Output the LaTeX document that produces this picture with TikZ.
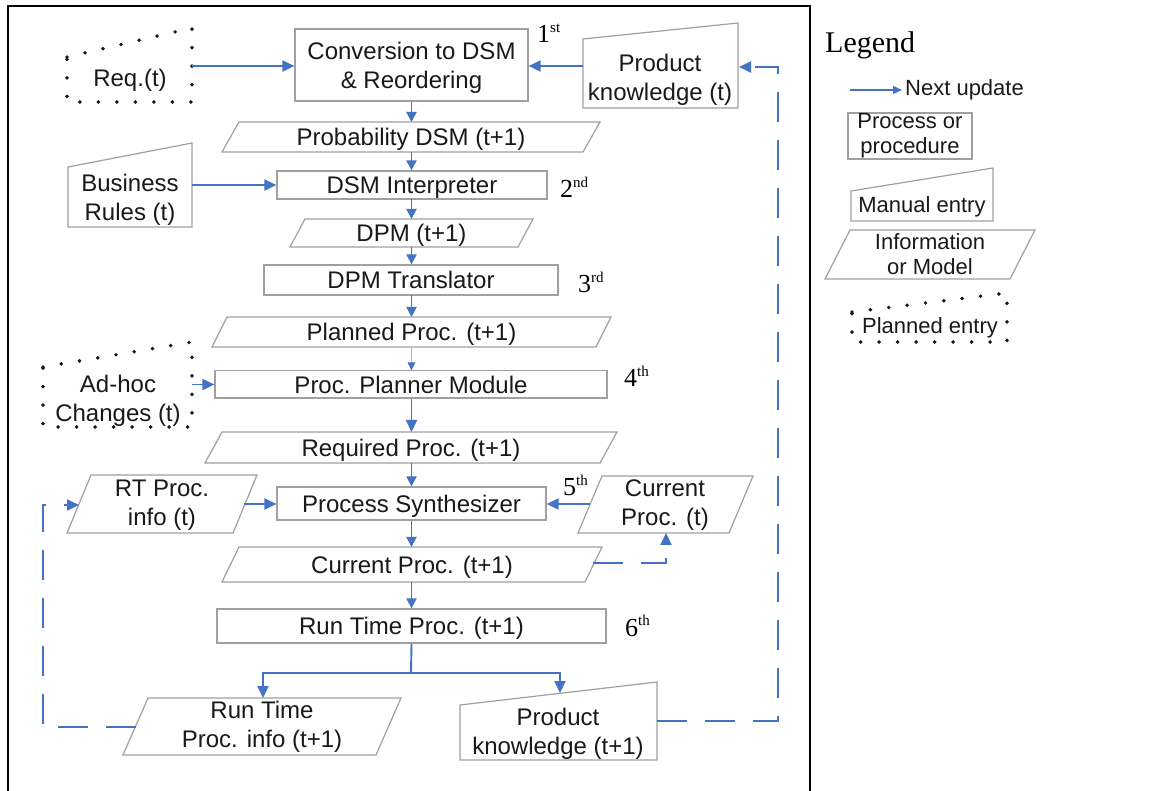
\documentclass[tikz,border=0pt]{standalone}
\usepackage{fontspec}
\setmainfont{Liberation Sans}
\newfontfamily\serifface{Liberation Serif}
\usetikzlibrary{arrows.meta}
\definecolor{flowblue}{RGB}{68,114,196}
\definecolor{edgegray}{RGB}{160,160,160}
\definecolor{inkgray}{RGB}{25,25,25}
\newcommand\mainsize{\fontsize{24}{29}\selectfont}
\newcommand\keysize{\fontsize{22}{25}\selectfont}
% parallelogram: name, left x (bottom), right x (top), top y, bottom y, slant, text
\newcommand\slantbox[7]{%
  \draw[shapeline] (#2,#5) -- ({#2+#6},#4) -- (#3,#4) -- ({#3-#6},#5) -- cycle;
  \node[lbl, oneline] (#1) at ({(#2+#3)/2},{(#4+#5)/2}) {#7};}
% parallelogram with two lines of text placed at a given point
\newcommand\slanttwo[9]{%
  \draw[shapeline] (#2,#5) -- ({#2+#6},#4) -- (#3,#4) -- ({#3-#6},#5) -- cycle;
  \node[lbl] (#1) at (#7,#8) {#9};}
% manual entry: name, left x, right x, top-left y, top-right y, bottom y, text x, text y, text
\newcommand\manualbox[9]{%
  \draw[shapeline] (#2,#4) -- (#3,#5) -- (#3,#6) -- (#2,#6) -- cycle;
  \node[lbl] (#1) at (#7,#8) {#9};}
% planned entry, dotted outline with the same sloping top
\newcommand\plannedbox[9]{%
  \draw[plannedline] (#2,#4) -- (#3,#5) -- (#3,#6) -- (#2,#6) -- cycle;
  \node[lbl] (#1) at (#7,#8) {#9};}
\newcommand\ordinal[4]{% name, x, baseline y, number + suffix
  \node[anchor=base west, inner sep=0, font=\serifface\fontsize{26}{26}\selectfont, text=black] (#1) at (#2,#3) {#4};}
\newcommand\sufx[1]{\raisebox{0.42em}{\fontsize{15}{15}\selectfont #1}}
\begin{document}
\begin{tikzpicture}[x=1pt,y=-1pt,
  shapeline/.style={draw=edgegray, line width=1.2pt},
  plannedline/.style={draw=black!90, line width=3.9pt, line cap=round, line join=round, dash pattern=on 0pt off 18.5pt},
  lbl/.style={inner sep=0, text=inkgray, font=\mainsize, align=center},
  oneline/.style={text height=22.2pt, text depth=5pt},
  procbox/.style={draw=edgegray, line width=1.2pt, inner sep=0, text=inkgray, font=\mainsize, align=center},
  flow/.style={draw=flowblue, line width=1.9pt, -{Triangle[length=12pt,width=11pt]}},
  shortflow/.style={flow, -{Triangle[length=10pt,width=10pt]}},
  thinflow/.style={draw=flowblue!45!gray!60, line width=0.8pt, -{Triangle[length=8pt,width=8pt,color=flowblue]}},
  update/.style={flow, dash pattern=on 30pt off 18pt},
]
\useasboundingbox (0,0) rectangle (1171,791);
\fill[white] (0,0) rectangle (1171,791);

% frame round the flow chart
\draw[line width=2.5pt] (8,800) -- (8,6) -- (810,6) -- (810,800);

% ---- stage 1
\plannedbox{req}{67}{192}{57}{28}{102}{130}{80}{Req.(t)}
\node[procbox, minimum width=233pt, minimum height=72pt] (conv) at (411.5,65) {};
\node[lbl] (convtxt) at (411.5,67.5) {Conversion to DSM\\\& Reordering};
\manualbox{pk0}{583}{738}{39}{23}{108}{660}{80}{Product\\knowledge (t)}
\ordinal{o1}{537}{43}{1\sufx{st}}
\slantbox{prob}{222}{600}{122}{152}{17}{Probability DSM (t+1)}

% ---- stage 2
\manualbox{br}{68}{192}{167}{143}{227}{130}{200}{Business\\Rules (t)}
\node[procbox, oneline, minimum width=270pt, minimum height=28pt] (dsmi) at (412,185) {DSM Interpreter};
\ordinal{o2}{560}{198}{2\sufx{nd}}
\slantbox{dpm}{290}{533}{219}{247}{15}{DPM (t+1)}

% ---- stage 3
\node[procbox, oneline, minimum width=294pt, minimum height=30pt] (dpmt) at (411,280) {DPM Translator};
\ordinal{o3}{578}{293}{3\sufx{rd}}
\slantbox{plan}{212}{611}{317}{347}{15}{Planned Proc. (t+1)}

% ---- stage 4
\plannedbox{adhoc}{43}{192}{367}{342}{427}{118}{401}{Ad-hoc\\Changes (t)}
\node[procbox, oneline, minimum width=392pt, minimum height=27pt] (ppm) at (411,384.5) {Proc. Planner Module};
\ordinal{o4}{624}{387}{4\sufx{th}}
\slantbox{req1}{205}{617}{432}{463}{17}{Required Proc. (t+1)}

% ---- stage 5
\slanttwo{rti}{67}{257}{475}{533}{24}{162}{505}{RT Proc.\\info (t)}
\node[procbox, oneline, minimum width=269pt, minimum height=33pt] (ps) at (411.5,503.5) {Process Synthesizer};
\slanttwo{cur0}{578}{753}{476}{533}{24}{665}{505}{Current\\Proc. (t)}
\ordinal{o5}{563}{496}{5\sufx{th}}
\slantbox{cur1}{222}{602}{547}{582}{17}{Current Proc. (t+1)}

% ---- stage 6
\node[procbox, oneline, minimum width=389pt, minimum height=34pt] (rtp) at (411.5,626) {Run Time Proc. (t+1)};
\ordinal{o6}{625}{636}{6\sufx{th}}
\slanttwo{rti1}{123}{401}{698}{755}{25}{262}{727}{Run Time\\Proc. info (t+1)}
\manualbox{pk1}{460}{657}{705}{682}{760}{558}{734}{Product\\knowledge (t+1)}

% ---- connector end points on slanted edges
\coordinate (reqout) at (192,66);
\coordinate (pk0in) at (583,66);
\coordinate (pk0back) at (739,67);
\coordinate (brout) at (192,185);
\coordinate (adout) at (192,384.5);
\coordinate (rtiout) at (244,504);
\coordinate (rtiin) at (79,505);
\coordinate (cur0out) at (590,504);
\coordinate (cur0low) at (666,533);
\coordinate (cur1out) at (593,563);
\coordinate (rti1out) at (136,727);
\coordinate (pk1out) at (657,721);
\coordinate (split) at (411,673);
\coordinate (rti1top) at (263,698);
\coordinate (pk1top) at (560,693);

% ---- main flow
\draw[flow] (reqout) -- (reqout -| conv.west);
\draw[flow] (pk0in) -- (pk0in -| conv.east);
\draw[shortflow] (conv.south) -- (411.5,122);
\draw[shortflow] (411.5,152) -- (dsmi.north -| 411.5,0);
\draw[flow] (brout) -- (dsmi.west);
\draw[shortflow] (411.5,199) -- (411.5,219);
\draw[shortflow] (411.5,247) -- (dpmt.north -| 411.5,0);
\draw[shortflow] (411.5,295) -- (411.5,317);
\draw[thinflow] (411.5,347) -- (ppm.north -| 411.5,0);
\draw[flow] (adout) -- (ppm.west);
\draw[flow] (ppm.south -| 411.5,0) -- (411.5,432);
\draw[shortflow] (411.5,463) -- (ps.north);
\draw[flow] (rtiout) -- (rtiout -| ps.west);
\draw[flow] (cur0out) -- (cur0out -| ps.east);
\draw[shortflow] (ps.south) -- (411.5,547);
\draw[shortflow] (411.5,582) -- (rtp.north);
\draw[flow] (rtp.south) -- (split) -| (rti1top);
\draw[flow] (split) -| (pk1top);

% ---- next-update loops
\draw[update] (cur1out) -| (cur0low);
\draw[update] (rti1out) -| (43,505) -- (rtiin);
\draw[update] (pk1out) -| (778,67) -- (pk0back);

% ---- legend
\node[anchor=base west, inner sep=0, font=\serifface\fontsize{30}{30}\selectfont, text=black] (legend) at (825,53) {Legend};
\coordinate (keya) at (850,90);
\coordinate (keyb) at (902,90);
\draw[draw=flowblue, line width=1.3pt, -{Triangle[length=9pt,width=8pt]}] (keya) -- (keyb);
\node[anchor=west, inner sep=0, font=\keysize, text=inkgray] (keyupd) at (905,90) {Next update};
\node[procbox, font=\keysize, minimum width=124pt, minimum height=46pt] (keyproc) at (910,136) {Process or\\procedure};
\begin{scope}[lbl/.append style={font=\keysize}]
\manualbox{keyman}{851}{993}{191}{168}{221}{922}{207}{Manual entry}
\draw[shapeline] (825,279) -- (850,230) -- (1035,230) -- (1010,279) -- cycle;
\node[lbl] (keyinfo) at (930,254) {Information\\or Model};
\plannedbox{keyplan}{852}{1007}{312}{293}{342}{930}{328}{Planned entry}
\end{scope}
\end{tikzpicture}
\end{document}
